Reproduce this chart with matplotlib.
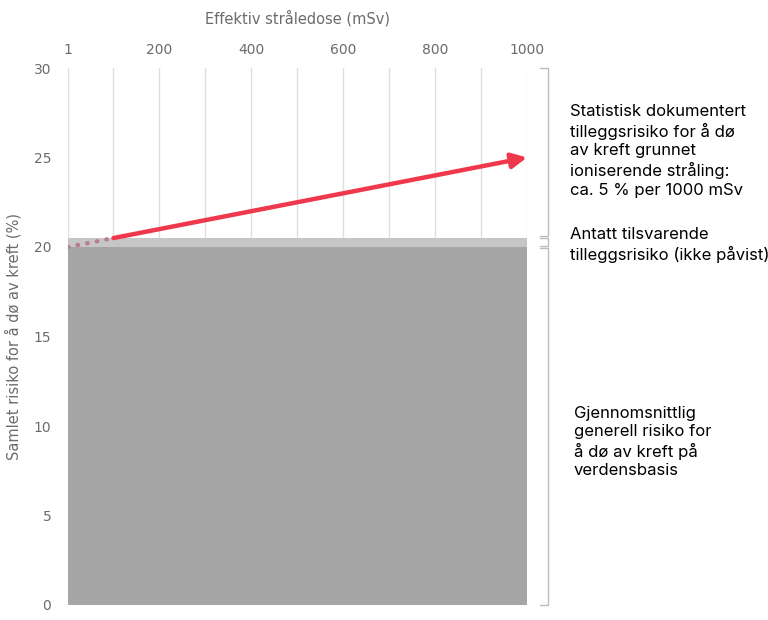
import matplotlib.pyplot as plt

# dose axis (mSv) and risk (%)
dose_ticks = [1, 200, 400, 600, 800, 1000]
grid_doses = [1, 100, 200, 300, 400, 500, 600, 700, 800, 900, 1000]
risk_ticks = [0, 5, 10, 15, 20, 25, 30]

base_risk = 20.0          # average general cancer risk
assumed_top = 20.5        # assumed extra risk up to 100 mSv (not proven)
dotted_dose = [1, 100]
dotted_risk = [20.0, 20.5]
arrow_dose = [100, 1000]
arrow_risk = [20.5, 25.0]

labels = [
    "Statistisk dokumentert\ntilleggsrisiko for å dø\nav kreft grunnet\nioniserende stråling:\nca. 5 % per 1000 mSv",
    "Antatt tilsvarende\ntilleggsrisiko (ikke påvist)",
    "Gjennomsnittlig\ngenerell risiko for\nå dø av kreft på\nverdensbasis",
]
brackets = [(20.6, 30.0), (20.05, 20.5), (0.0, 19.95)]

axis_grey = '#6b6b6b'

fig = plt.figure(figsize=(7.68, 6.2), dpi=100)
ax = fig.add_axes([68 / 768, 1 - 605 / 620, 459 / 768, 537 / 620])

xmin, xmax = 1, 1000
ax.set_xlim(xmin, xmax)
ax.set_ylim(0, 30)

for d in grid_doses:
    ax.axvline(d, color='#dedede', linewidth=1, zorder=0)

ax.fill_between([xmin, xmax], 0, base_risk, color='#a6a6a6', linewidth=0, zorder=1)
ax.fill_between([xmin, xmax], base_risk, assumed_top, color='#c6c6c6', linewidth=0, zorder=1)

ax.plot(dotted_dose, dotted_risk, color='#b87e8c', linewidth=3.2,
        linestyle=(0, (0.1, 2.1)), dash_capstyle='round', zorder=3)
ax.annotate('', xy=(arrow_dose[1], arrow_risk[1]), xytext=(arrow_dose[0], arrow_risk[0]),
            arrowprops=dict(arrowstyle='-|>,head_length=0.9,head_width=0.45',
                            color='#f0384c', linewidth=3.2, shrinkA=0, shrinkB=0),
            zorder=4)

# brackets on the right
bx = 1046
tick = 17
for lo, hi in brackets:
    ax.plot([bx - tick, bx, bx, bx - tick], [hi, hi, lo, lo], color='#bdbdbd',
            linewidth=1, clip_on=False)

for s in ax.spines.values():
    s.set_visible(False)

ax.xaxis.tick_top()
ax.xaxis.set_label_position('top')
ax.set_xticks(dose_ticks)
ax.set_xticklabels([str(d) for d in dose_ticks])
ax.set_yticks(risk_ticks)
ax.tick_params(length=0, labelsize=10, colors=axis_grey, pad=8)
ax.tick_params(axis='y', pad=12)
ax.set_xlabel('Effektiv stråledose (mSv)', fontsize=10.5, color=axis_grey, labelpad=14)
ax.set_ylabel('Samlet risiko for å dø av kreft (%)', fontsize=10.5, color=axis_grey, labelpad=9)

txt_font = dict(family='Inter', fontsize=12, color='black', linespacing=1.27, va='center', ha='left')
fig.text(570 / 768, 1 - 151 / 620, labels[0], **txt_font)
fig.text(570 / 768, 1 - 245 / 620, labels[1], **txt_font)
fig.text(574 / 768, 1 - 442 / 620, labels[2], **txt_font)

fig.savefig('out.png', dpi=100)
